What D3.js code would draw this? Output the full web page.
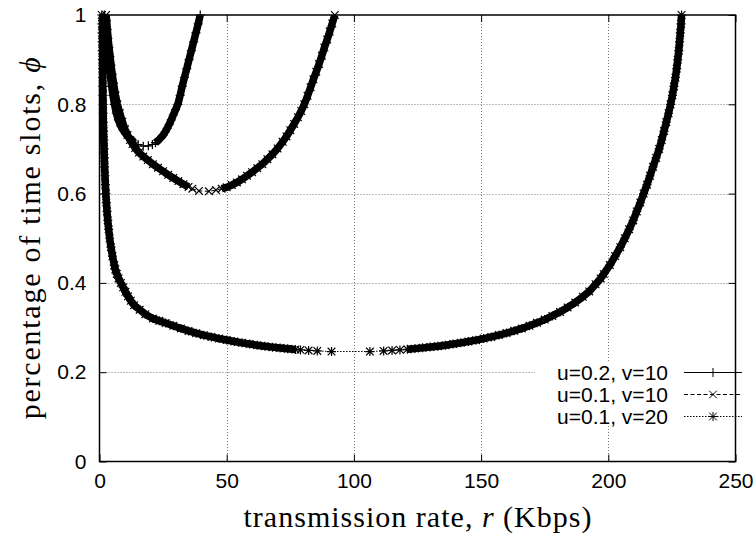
<!DOCTYPE html>
<html><head><meta charset="utf-8">
<script src="https://cdn.jsdelivr.net/npm/d3@7"></script>
<style>body{margin:0;background:#fff}</style></head>
<body><svg id="c" width="756" height="538"></svg>
<script>
// ---------- data ----------
const xTicks = [0, 50, 100, 150, 200, 250];
const yTicks = [0, 0.2, 0.4, 0.6, 0.8, 1];
const seriesNames = ["u=0.2, v=10", "u=0.1, v=10", "u=0.1, v=20"];

// series 1: u=0.2, v=10   [r, phi]
const s1Left = [[2.0,1.00],[2.3,0.98],[2.6,0.96],[2.9,0.94],[3.2,0.92],[3.5,0.90],[3.9,0.88],[4.3,0.86],[4.8,0.84],[5.3,0.82],[5.9,0.80],[6.6,0.78],[7.4,0.765],[8.3,0.752],[9.3,0.742],[10.4,0.733],[11.5,0.726],[12.6,0.72],[13.7,0.715]];
const s1Min = [[15.2,0.710],[17.2,0.706],[19.2,0.707],[20.8,0.710]];
const s1Right = [[22.0,0.714],[23.1,0.719],[24.1,0.725],[25.0,0.731],[25.8,0.738],[26.6,0.746],[27.4,0.755],[28.2,0.765],[29.0,0.776],[29.9,0.788],[30.8,0.80],[31.7,0.82],[32.5,0.84],[33.4,0.86],[34.3,0.88],[35.2,0.90],[36.1,0.92],[37.0,0.94],[37.9,0.96],[38.8,0.98],[39.6,1.00]];

// series 2: u=0.1, v=10
const s2Left = [[2.6,1.00],[2.9,0.98],[3.2,0.96],[3.5,0.94],[3.9,0.92],[4.3,0.90],[4.7,0.88],[5.2,0.86],[5.7,0.84],[6.3,0.82],[7.0,0.80],[8.0,0.78],[9.0,0.761],[10.0,0.744],[11.0,0.731],[12.0,0.720],[13.0,0.711],[14.0,0.702],[15.5,0.692],[17.2,0.683],[19.0,0.675],[21.0,0.666],[23.0,0.658],[25.0,0.650],[27.0,0.642],[29.0,0.635],[31.0,0.628],[33.0,0.621],[35.0,0.615]];
const s2Min = [[36.5,0.611],[39.1,0.606],[43.0,0.605],[45.8,0.608]];
const s2Right = [[48.0,0.611],[50.0,0.614],[52.0,0.619],[54.0,0.625],[56.0,0.632],[58.0,0.640],[60.0,0.648],[62.0,0.657],[64.0,0.666],[66.0,0.677],[68.0,0.688],[70.0,0.701],[72.0,0.716],[73.5,0.728],[75.0,0.742],[76.5,0.756],[78.0,0.771],[79.3,0.785],[80.5,0.80],[81.8,0.819],[83.0,0.838],[84.1,0.856],[85.2,0.873],[86.3,0.89],[87.4,0.909],[88.4,0.927],[89.5,0.945],[90.5,0.963],[91.5,0.981],[92.5,1.00]];

// series 3: u=0.1, v=20
const s3Left = [[0.9,1.00],[0.95,0.98],[1.0,0.96],[1.05,0.94],[1.1,0.92],[1.15,0.90],[1.2,0.88],[1.25,0.86],[1.3,0.84],[1.35,0.82],[1.4,0.80],[1.45,0.78],[1.5,0.76],[1.6,0.74],[1.7,0.72],[1.8,0.70],[1.9,0.68],[2.0,0.66],[2.15,0.64],[2.3,0.62],[2.5,0.60],[2.7,0.58],[2.95,0.56],[3.25,0.54],[3.6,0.52],[4.0,0.50],[4.5,0.48],[5.1,0.46],[5.8,0.44],[6.2,0.43],[6.8,0.42],[7.5,0.41],[8.4,0.40],[9.3,0.39],[10.2,0.38],[11.2,0.37],[12.3,0.36],[13.6,0.35],[15.8,0.34],[18.0,0.33],[21.0,0.32],[23.5,0.315],[26.0,0.31],[29,0.304],[32,0.298],[35,0.2925],[38,0.2875],[41,0.283],[44,0.279],[47,0.2753],[50,0.272],[53,0.2688],[56,0.2658],[59,0.263],[62,0.2605],[65,0.2582],[68,0.2561],[71,0.2541],[74,0.2524],[77,0.2509]];
const s3Min = [[79.0,0.2500],[82.2,0.2487],[85.6,0.2476],[91.2,0.2463],[106.3,0.2463],[111.7,0.2476],[115.0,0.2487],[118.1,0.2500]];
const s3Right = [[121,0.2513],[124,0.2528],[127,0.2545],[130,0.2563],[133,0.2583],[136,0.2605],[139,0.263],[142,0.2657],[145,0.2686],[148,0.2718],[151,0.2753],[154,0.279],[157,0.2832],[160,0.2877],[163,0.2926],[166,0.298],[169,0.304],[172,0.3105],[175,0.3178],[178,0.326],[181,0.335],[184,0.345],[187,0.356],[190,0.369],[192.5,0.381],[195,0.397],[197,0.41],[198.2,0.42],[200.6,0.44],[202.7,0.46],[204.7,0.48],[206.5,0.50],[208.2,0.52],[209.8,0.54],[211.2,0.56],[212.6,0.58],[213.9,0.60],[215.2,0.62],[216.4,0.64],[217.6,0.66],[218.8,0.68],[220.0,0.70],[221.0,0.72],[221.9,0.74],[222.8,0.76],[223.7,0.78],[224.5,0.80],[225.2,0.82],[225.8,0.84],[226.4,0.86],[226.9,0.88],[227.3,0.90],[227.7,0.92],[228.0,0.94],[228.3,0.96],[228.6,0.98],[228.8,1.00]];

// ---------- chart ----------
const L = 99.5, R = 735.5, T = 15, B = 461.5;
const x = d3.scaleLinear().domain([0, 250]).range([L, R]);
const y = d3.scaleLinear().domain([0, 1]).range([B, T]);
const svg = d3.select("#c");
const sans = "'Liberation Sans', Arial, Helvetica, sans-serif";
const serif = "'Liberation Serif', 'Times New Roman', serif";

svg.append("defs").append("clipPath").attr("id", "clip")
  .append("rect").attr("x", L).attr("y", T).attr("width", R - L).attr("height", B - T);

// grid
const grid = svg.append("g").attr("stroke", "#7a7a7a").attr("stroke-width", 1).attr("stroke-dasharray", "1,2");
grid.selectAll("line.gx").data(xTicks.filter(t => t > 0 && t < 250)).join("line")
  .attr("x1", d => Math.round(x(d)) + 0.5).attr("x2", d => Math.round(x(d)) + 0.5).attr("y1", T).attr("y2", B);
grid.selectAll("line.gy").data(yTicks.filter(t => t > 0 && t < 1)).join("line")
  .attr("y1", d => Math.round(y(d)) + 0.5).attr("y2", d => Math.round(y(d)) + 0.5).attr("x1", L).attr("x2", R);

// axes (labels + inward ticks)
const fs = 21;
const ax = svg.append("g").attr("transform", `translate(0,${B})`)
  .call(d3.axisBottom(x).tickValues(xTicks).tickFormat(d3.format("d")).tickSizeInner(-7).tickSizeOuter(0).tickPadding(12));
const ay = svg.append("g").attr("transform", `translate(${L},0)`)
  .call(d3.axisLeft(y).tickValues(yTicks).tickFormat(d => d === 0 || d === 1 ? d3.format("d")(d) : d3.format(".1f")(d)).tickSizeInner(-7).tickSizeOuter(0).tickPadding(13));
const axT = svg.append("g").attr("transform", `translate(0,${T})`)
  .call(d3.axisTop(x).tickValues(xTicks).tickFormat("").tickSizeInner(-7).tickSizeOuter(0));
const ayR = svg.append("g").attr("transform", `translate(${R},0)`)
  .call(d3.axisRight(y).tickValues(yTicks).tickFormat("").tickSizeInner(-7).tickSizeOuter(0));
[ax, ay, axT, ayR].forEach(a => {
  a.select(".domain").remove();
  a.selectAll("line").attr("stroke", "#000").attr("stroke-width", 1);
  a.selectAll("text").attr("font-family", sans).attr("font-size", fs).attr("fill", "#000");
});

// series
const series = [
  {name: seriesNames[0], left: s1Left, min: s1Min, right: s1Right, sym: "plus", dash: null},
  {name: seriesNames[1], left: s2Left, min: s2Min, right: s2Right, sym: "cross", dash: "4,2.5"},
  {name: seriesNames[2], left: s3Left, min: s3Min, right: s3Right, sym: "star", dash: "1.5,1.5"}
];
const line = d3.line().x(d => x(d[0])).y(d => y(d[1]));
function symPath(kind, s) {
  const p = d3.path();
  if (kind === "plus" || kind === "star") { p.moveTo(-s, 0); p.lineTo(s, 0); p.moveTo(0, -s); p.lineTo(0, s); }
  if (kind === "cross" || kind === "star") { const c = s * 0.85; p.moveTo(-c, -c); p.lineTo(c, c); p.moveTo(-c, c); p.lineTo(c, -c); }
  return p.toString();
}
const plot = svg.append("g");
series.forEach(s => {
  const g = plot.append("g");
  const all = s.left.concat(s.min, s.right);
  // dense sampling along the branches renders as a solid band of overlapping marks
  [s.left, s.right].forEach(br => {
    g.append("path").attr("d", line(br)).attr("clip-path", "url(#clip)")
      .attr("fill", "none").attr("stroke", "#000").attr("stroke-width", 7.5)
      .attr("stroke-linejoin", "round").attr("stroke-linecap", "butt");
  });
  g.append("path").attr("d", line(all)).attr("fill", "none").attr("stroke", "#000")
    .attr("stroke-width", 1).attr("stroke-dasharray", s.dash);
  g.selectAll("path.m").data(all).join("path").attr("class", "m")
    .attr("transform", d => `translate(${x(d[0])},${y(d[1])})`)
    .attr("d", symPath(s.sym, 4.5)).attr("fill", "none").attr("stroke", "#000").attr("stroke-width", 1.2);
});

// legend
const leg = svg.append("g");
leg.append("rect").attr("x", 535).attr("y", 361).attr("width", 212).attr("height", 63).attr("fill", "#fff");
series.forEach((s, i) => {
  const cy = 372.5 + i * 22;
  leg.append("text").attr("x", 668).attr("y", cy + 7.5).attr("text-anchor", "end")
    .attr("font-family", sans).attr("font-size", fs).text(s.name);
  leg.append("line").attr("x1", 684).attr("x2", 742).attr("y1", cy).attr("y2", cy)
    .attr("stroke", "#000").attr("stroke-width", 1).attr("stroke-dasharray", s.dash);
  leg.append("path").attr("transform", `translate(713,${cy})`).attr("d", symPath(s.sym, 4.5))
    .attr("fill", "none").attr("stroke", "#000").attr("stroke-width", 1);
});

// border
svg.append("rect").attr("x", L).attr("y", T).attr("width", R - L).attr("height", B - T)
  .attr("fill", "none").attr("stroke", "#000").attr("stroke-width", 1.5);

// axis titles
const xt = svg.append("text").attr("x", (L + R) / 2).attr("y", 527).attr("text-anchor", "middle")
  .attr("font-family", serif).attr("font-size", 30).attr("textLength", 348).attr("lengthAdjust", "spacing");
xt.append("tspan").text("transmission rate, ");
xt.append("tspan").attr("font-style", "italic").text("r");
xt.append("tspan").text(" (Kbps)");
const yt = svg.append("text").attr("transform", `translate(40,${(T + B) / 2}) rotate(-90)`).attr("text-anchor", "middle")
  .attr("font-family", serif).attr("font-size", 30).attr("textLength", 362).attr("lengthAdjust", "spacing");
yt.append("tspan").text("percentage of time slots, ");
yt.append("tspan").attr("font-style", "italic").text("ϕ");
</script>
</body></html>
